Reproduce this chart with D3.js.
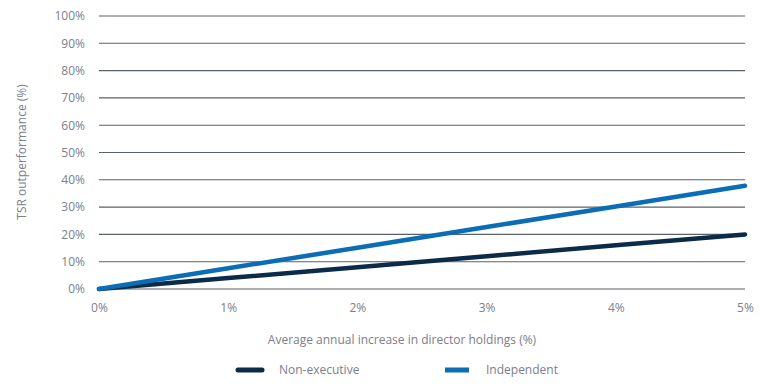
<!DOCTYPE html>
<html>
<head>
<meta charset="utf-8">
<script src="https://cdn.jsdelivr.net/npm/d3@7"></script>
<style>
  body { margin: 0; background: #fff; }
  text { font-family: "Open Sans", "Noto Sans", sans-serif; }
</style>
</head>
<body>
<svg></svg>
<script>
let xValues = [0, 1, 2, 3, 4, 5];
let nonExecutive = [0, 4, 8, 12, 16, 20];
let independent = [0, 7.6, 15.1, 22.7, 30.2, 37.8];
let yTicks = [0, 10, 20, 30, 40, 50, 60, 70, 80, 90, 100];
let seriesNames = ["Non-executive", "Independent"];
let seriesColors = ["#0c2b48", "#0a6db5"];

let width = 761;
let height = 386;
let fontSize = "12px";

let svg = d3.select("svg")
    .attr("width", width)
    .attr("height", height);

let xScale = d3.scaleLinear()
    .domain([0, 5])
    .range([99, 745]);

let yScale = d3.scaleLinear()
    .domain([0, 100])
    .range([289, 16]);

// grid lines
svg.append("g")
    .selectAll("line")
    .data(yTicks)
    .enter()
    .append("line")
    .attr("x1", xScale(0))
    .attr("x2", xScale(5))
    .attr("y1", d => yScale(d))
    .attr("y2", d => yScale(d))
    .attr("stroke", "#5b6169")
    .attr("stroke-width", 1.1);

let yAxis = d3.axisLeft(yScale)
    .tickValues(yTicks)
    .tickFormat(d => d + "%")
    .tickSize(0)
    .tickPadding(0);

let yAxisG = svg.append("g")
    .attr("transform", "translate(85, 0)")
    .call(yAxis);
yAxisG.select(".domain").remove();
yAxisG.selectAll("text")
    .attr("fill", "#7b808a")
    .style("font-size", fontSize);

let xAxis = d3.axisBottom(xScale)
    .tickValues(xValues)
    .tickFormat(d => d + "%")
    .tickSize(0)
    .tickPadding(0);

let xAxisG = svg.append("g")
    .attr("transform", "translate(0, 303)")
    .call(xAxis);
xAxisG.select(".domain").remove();
xAxisG.selectAll("text")
    .attr("fill", "#7b808a")
    .style("font-size", fontSize);

// axis titles
svg.append("text")
    .attr("x", 402)
    .attr("y", 344)
    .attr("text-anchor", "middle")
    .attr("fill", "#7b808a")
    .style("font-size", fontSize)
    .text("Average annual increase in director holdings (%)");

svg.append("text")
    .attr("transform", "translate(26, 152) rotate(-90)")
    .attr("text-anchor", "middle")
    .attr("fill", "#7b808a")
    .style("font-size", fontSize)
    .text("TSR outperformance (%)");

// lines
let line = d3.line()
    .x((d, i) => xScale(xValues[i]))
    .y(d => yScale(d));

[nonExecutive, independent].forEach((values, i) => {
    svg.append("path")
        .datum(values)
        .attr("d", line)
        .attr("fill", "none")
        .attr("stroke", seriesColors[i])
        .attr("stroke-width", 4.5)
        .attr("stroke-linecap", "round");
});

// legend
let legendX = [236, 443];
seriesNames.forEach((name, i) => {
    svg.append("line")
        .attr("x1", legendX[i] + 2)
        .attr("x2", legendX[i] + 26)
        .attr("y1", 370)
        .attr("y2", 370)
        .attr("stroke", seriesColors[i])
        .attr("stroke-width", 5)
        .attr("stroke-linecap", i === 0 ? "round" : "butt");
    svg.append("text")
        .attr("x", legendX[i] + 43)
        .attr("y", 374)
        .attr("fill", "#7b808a")
        .style("font-size", fontSize)
        .text(name);
});
</script>
</body>
</html>
